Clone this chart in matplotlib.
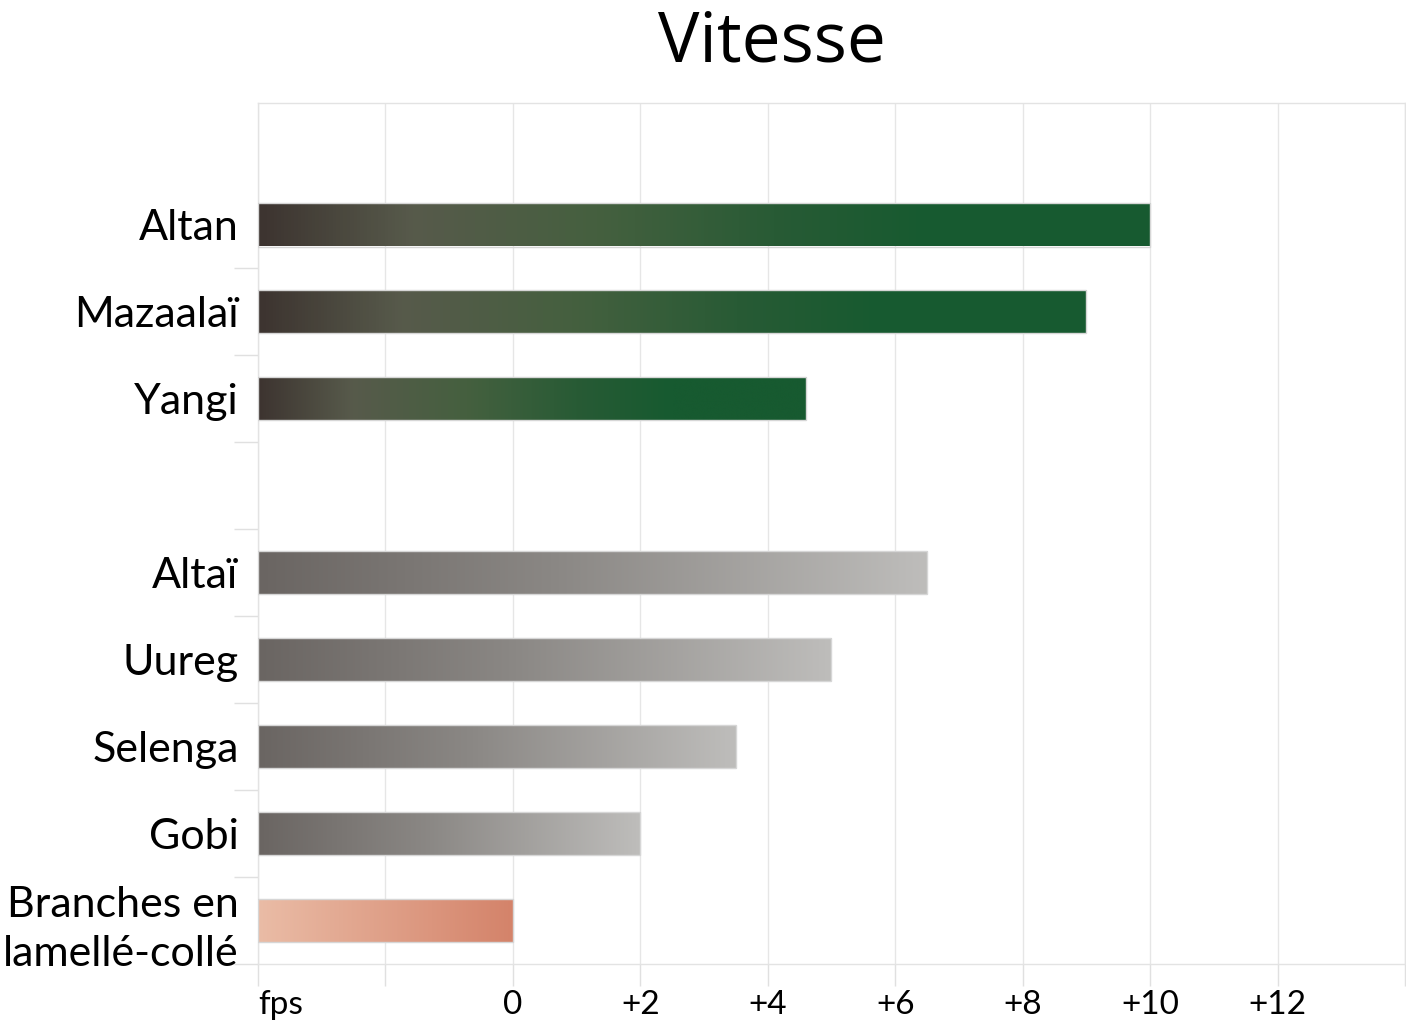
import matplotlib
matplotlib.use('Agg')
import matplotlib.pyplot as plt
import numpy as np
from matplotlib.colors import LinearSegmentedColormap
from matplotlib.patches import Rectangle

plt.rcParams['font.family'] = ['Lato', 'DejaVu Sans']

# Data (bottom to top); None marks the empty slot between the groups
labels = ['Branches en\nlamellé-collé', 'Gobi', 'Selenga', 'Uureg', 'Altaï',
          '', 'Yangi', 'Mazaalaï', 'Altan']
values = [0, 2, 3.5, 5, 6.5, None, 4.6, 9, 10]
groups = ['ref', 'gray', 'gray', 'gray', 'gray', None, 'green', 'green', 'green']

xticks = [-4, -2, 0, 2, 4, 6, 8, 10, 12, 14]
xticklabels = ['fps', '', '0', '+2', '+4', '+6', '+8', '+10', '+12', '']
xmin = -4

# Gradient colormaps (left -> right along each bar)
cmaps = {
    'green': LinearSegmentedColormap.from_list('green', [
        (0.0, '#3d3430'), (0.17, '#575a4b'), (0.38, '#45603f'),
        (0.58, '#285b35'), (0.75, '#175a30'), (1.0, '#175a30')]),
    'gray': LinearSegmentedColormap.from_list('gray', [
        (0.0, '#6a6562'), (0.45, '#8b8885'), (1.0, '#bebdbb')]),
    'ref': LinearSegmentedColormap.from_list('ref', [
        (0.0, '#eabca6'), (1.0, '#d4836a')]),
}

fig = plt.figure(figsize=(14.06, 10.24), dpi=100)
ax = fig.add_axes([258/1406, 1 - 964/1024, (1405-258)/1406, (964-103)/1024])

bar_h = 0.5
grad = np.linspace(0, 1, 256).reshape(1, -1)
for i, (v, g) in enumerate(zip(values, groups)):
    if v is None:
        continue
    x0, x1 = xmin, v
    y0, y1 = i - bar_h/2, i + bar_h/2
    im = ax.imshow(grad, cmap=cmaps[g], extent=[x0, x1, y0, y1],
                   aspect='auto', interpolation='bicubic', zorder=3)
    rect = Rectangle((x0, y0), x1 - x0, bar_h, facecolor='none',
                     edgecolor='#d6d6d6', linewidth=1, zorder=4)
    ax.add_patch(rect)
    im.set_clip_path(rect)

ax.set_xlim(-4, 14)
ax.set_ylim(-0.5, 9.4)

# x axis
ax.set_xticks(xticks)
ax.set_xticklabels(xticklabels, fontsize=24)
for t in ax.get_xticklabels():
    if t.get_text() == 'fps':
        t.set_horizontalalignment('left')
ax.tick_params(axis='x', length=16, width=1, color='#e0e0e0', pad=3)
ax.grid(axis='x', color='#e6e6e6', linewidth=1, zorder=0)

# y axis: ticks at slot boundaries, labels at slot centres
ax.set_yticks(np.arange(-0.5, 8, 1))
ax.set_yticklabels([])
ax.tick_params(axis='y', which='major', length=17, width=1, color='#e0e0e0')
ax.set_yticks(range(len(labels)), minor=True)
ax.set_yticklabels(labels, minor=True, fontsize=31, linespacing=1.35)
ax.tick_params(axis='y', which='minor', length=0, pad=14)

for s in ax.spines.values():
    s.set_color('#e3e3e3')
    s.set_linewidth(1)

fig.text(772/1406, 1 - 44/1024, 'Vitesse', fontsize=50, ha='center', va='center',
         family=['Open Sans', 'DejaVu Sans'])

plt.savefig('out.png', dpi=100)
